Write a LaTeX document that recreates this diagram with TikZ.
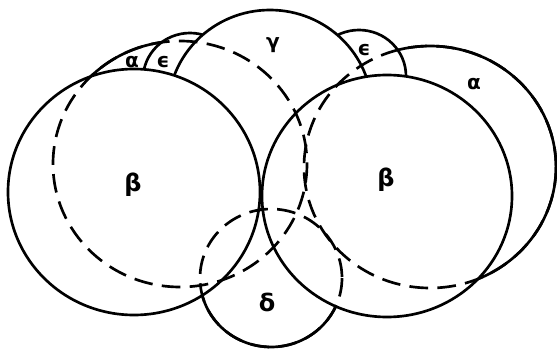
\documentclass[tikz,border=0pt]{standalone}
\usepackage{fontspec}
\setmainfont{DejaVu Sans}
\def\bL{(134,192) ellipse [x radius=126, y radius=123]}
\def\bR{(387,196) ellipse [x radius=125, y radius=121]}
\def\aL{(180,164) ellipse [x radius=127, y radius=123]}
\def\aR{(430,167) ellipse [x radius=126, y radius=121]}
\def\gC{(270,110) ellipse [x radius=102, y radius=100]}
\def\eL{(190,79) ellipse [x radius=47, y radius=46]}
\def\eR{(359,76) ellipse [x radius=47, y radius=46]}
\def\dC{(271,278) ellipse [x radius=71, y radius=69]}
\newcommand\outsideof[1]{\clip (-20,-20) rectangle (580,370) #1;}
\begin{document}
\begin{tikzpicture}[x=0.75pt,y=-0.75pt,line width=2pt,
  hid/.style={dash pattern=on 14pt off 7pt},
  lbl/.style={font=\bfseries\fontsize{15}{15}\selectfont,inner sep=0pt},
  big/.style={font=\bfseries\fontsize{18}{18}\selectfont,inner sep=0pt}]
\useasboundingbox (0,0) rectangle (557,349);
% beta circles (front)
\draw \bL;
\draw \bR;
% gamma
\begin{scope}[even odd rule]\outsideof\bL\outsideof\bR\draw \gC;\end{scope}
% epsilon circles
\begin{scope}[even odd rule]\outsideof\bL\outsideof\gC\draw \eL;\end{scope}
\begin{scope}[even odd rule]\outsideof\bR\outsideof\gC\draw \eR;\end{scope}
% delta
\draw[hid] \dC;
\begin{scope}[even odd rule]\outsideof\bL\outsideof\bR\draw \dC;\end{scope}
% alpha left
\draw[hid] \aL;
\begin{scope}[even odd rule]\outsideof\bL\outsideof\bR\outsideof\gC\outsideof\eL\outsideof\dC\draw \aL;\end{scope}
% alpha right
\draw[hid] \aR;
\begin{scope}[even odd rule]\outsideof\bR\outsideof\gC\outsideof\eR\outsideof\dC\draw \aR;\end{scope}
% labels
\node[lbl] (la1) at (132,62) {α};
\node[lbl] (le1) at (163,62) {ϵ};
\node[lbl] (lg) at (273,45) {γ};
\node[lbl] (le2) at (364,50) {ϵ};
\node[lbl] (la2) at (474,84) {α};
\node[big] (lb1) at (133,185) {β};
\node[big] (lb2) at (386,180) {β};
\node[big] (ld) at (267,302) {δ};
\end{tikzpicture}
\end{document}
